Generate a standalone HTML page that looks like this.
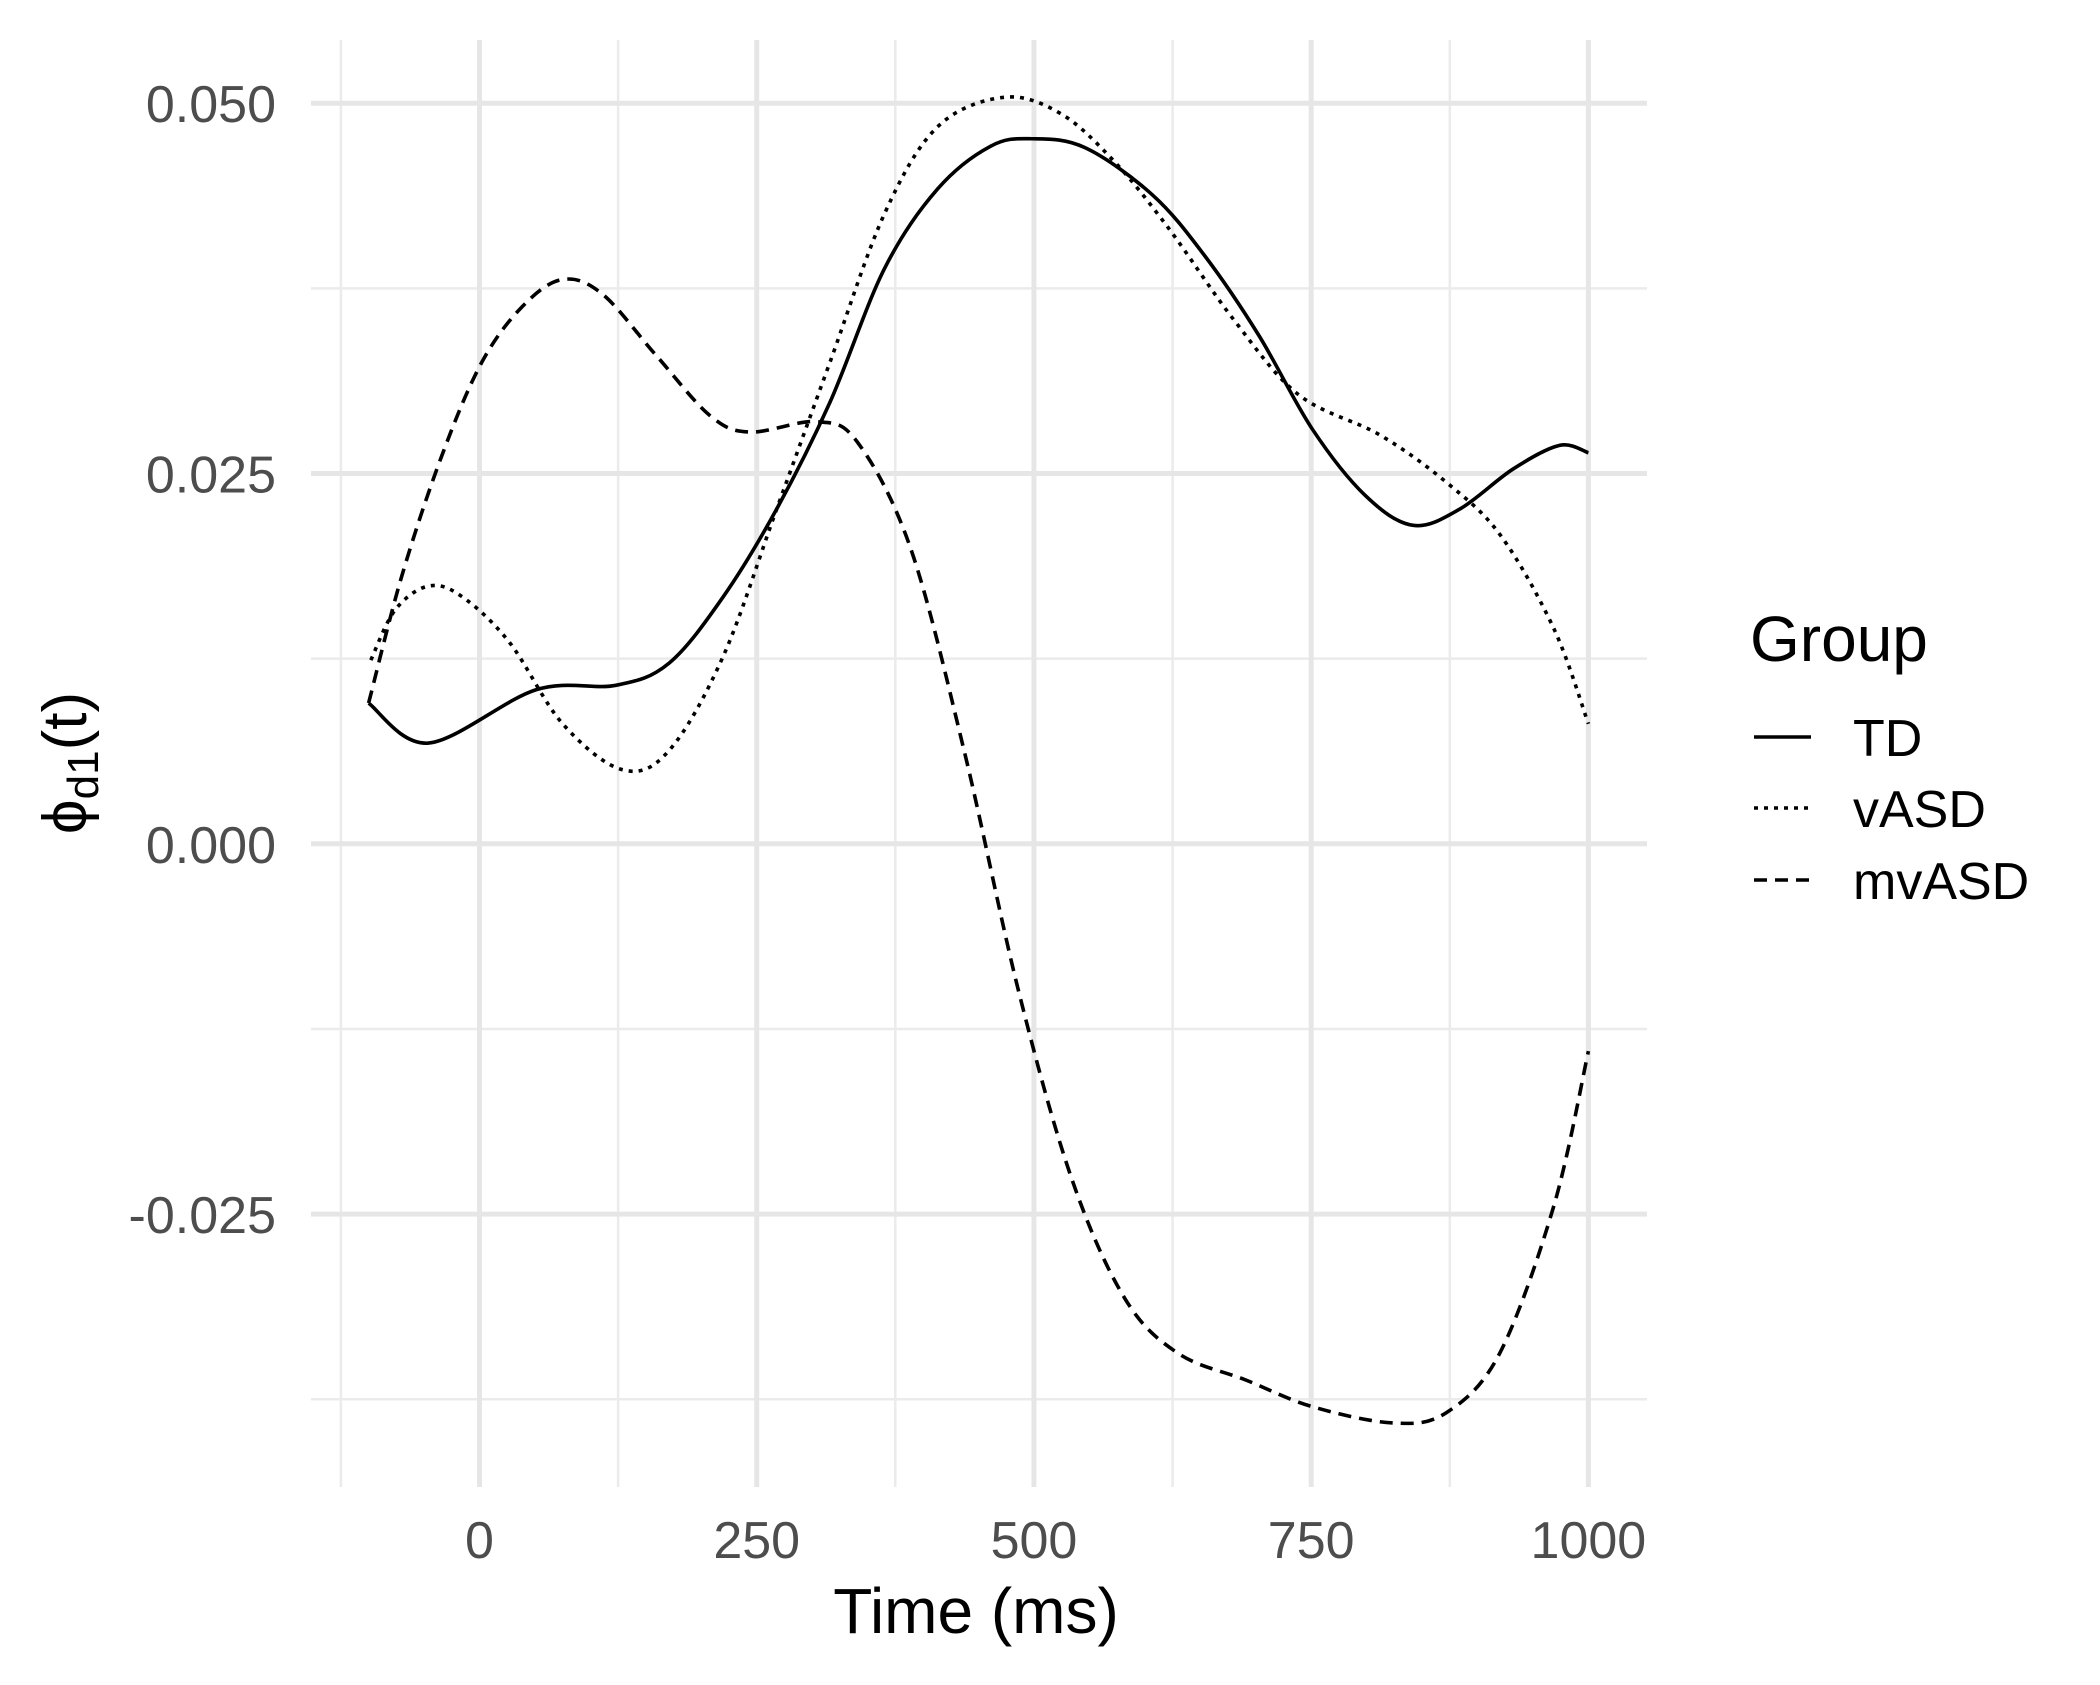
<!DOCTYPE html>
<html><head><meta charset="utf-8"><style>
body{margin:0;background:#fff}
svg text{font-family:"Liberation Sans",sans-serif}
</style></head><body>
<svg id="chart" width="2100" height="1680" xmlns="http://www.w3.org/2000/svg">
<g id="grid"></g>
<g id="series"></g>
<g id="axes"></g>
<text x="976" y="1633" font-size="64" text-anchor="middle" fill="#000">Time (ms)</text>
<text transform="translate(86,763) rotate(-90)" font-size="62" text-anchor="middle" fill="#000">ϕ<tspan font-size="44" dy="12">d1</tspan><tspan dy="-12">(t)</tspan></text>
<g>
<text x="1750" y="661" font-size="64" fill="#000">Group</text>
<line x1="1754" x2="1811" y1="737" y2="737" stroke="#000" stroke-width="3.6"/>
<text x="1853" y="756" font-size="52" fill="#000">TD</text>
<line x1="1754" x2="1811" y1="808" y2="808" stroke="#000" stroke-width="3.6" stroke-dasharray="4 6"/>
<text x="1853" y="827" font-size="52" fill="#000">vASD</text>
<line x1="1754" x2="1811" y1="880" y2="880" stroke="#000" stroke-width="3.6" stroke-dasharray="13 8"/>
<text x="1853" y="899" font-size="52" fill="#000">mvASD</text>
</g>
</svg>
<script>
const xTicks=[0,250,500,750,1000];
const xMinor=[-125,125,375,625,875];
const yTicks=[0.05,0.025,0,-0.025];
const yTickLabels=["0.050","0.025","0.000","-0.025"];
const yMinor=[0.0375,0.0125,-0.0125,-0.0375];
const tdT=[-100,-46,51,123,171,220,268,316,365,413,461,498,546,607,654,703,751,799,842,884,932,974,1000];
const tdV=[0.0095,0.0068,0.0104,0.0107,0.0122,0.0167,0.0226,0.0298,0.0388,0.0442,0.0471,0.0476,0.0470,0.0438,0.0397,0.0343,0.0280,0.0235,0.0215,0.0226,0.0253,0.0269,0.0264];
const vT=[-98,-76,-46,-16,27,75,129,171,220,268,316,365,413,473,524,572,621,681,739,812,872,921,969,1000];
const vV=[0.0124,0.0158,0.0174,0.0167,0.0136,0.0081,0.0050,0.0063,0.0127,0.0226,0.0325,0.0425,0.0484,0.0504,0.0493,0.0461,0.0416,0.0353,0.0303,0.0276,0.0244,0.0208,0.0145,0.0081];
const mT=[-100,-70,-34,2,39,75,111,159,208,244,304,341,389,437,486,534,582,630,691,751,824,872,920,969,1000];
const mV=[0.0095,0.0181,0.0262,0.0325,0.0363,0.0381,0.0371,0.0330,0.0289,0.0278,0.0285,0.0271,0.0199,0.0063,-0.0099,-0.0226,-0.0307,-0.0344,-0.0362,-0.0380,-0.0391,-0.0384,-0.0344,-0.0244,-0.0140];
const X=t=>479.5+t*1.1089;
const Y=v=>843.8-v*14812;
const NS="http://www.w3.org/2000/svg";
const grid=document.getElementById('grid'),axes=document.getElementById('axes'),ser=document.getElementById('series');
function mk(tag,attrs,parent){const e=document.createElementNS(NS,tag);for(const k in attrs)e.setAttribute(k,attrs[k]);parent.appendChild(e);return e;}
yMinor.forEach(v=>{const e=mk('line',{x1:311,x2:1647,y1:Y(v),y2:Y(v),stroke:'#ebebeb','stroke-width':2.5},grid);

});
xMinor.forEach(t=>{const e=mk('line',{x1:X(t),x2:X(t),y1:40,y2:1487,stroke:'#ebebeb','stroke-width':2.5},grid);

});
yTicks.forEach((v,i)=>{const e=mk('line',{x1:311,x2:1647,y1:Y(v),y2:Y(v),stroke:'#e6e6e6','stroke-width':5},grid);


const t=mk('text',{x:276,y:Y(v)+19,'font-size':52,fill:'#4d4d4d','text-anchor':'end'},axes);t.textContent=yTickLabels[i];

});
xTicks.forEach(v=>{const e=mk('line',{x1:X(v),x2:X(v),y1:40,y2:1487,stroke:'#e6e6e6','stroke-width':5},grid);


const t=mk('text',{x:X(v),y:1558,'font-size':52,fill:'#4d4d4d','text-anchor':'middle'},axes);t.textContent=String(v);

});
function path(T,V){const p=T.map((t,i)=>[X(t),Y(V[i])]);let d='M'+p[0][0]+','+p[0][1];
for(let i=0;i<p.length-1;i++){const p0=p[Math.max(0,i-1)],p1=p[i],p2=p[i+1],p3=p[Math.min(p.length-1,i+2)];
d+=' C'+(p1[0]+(p2[0]-p0[0])/6)+','+(p1[1]+(p2[1]-p0[1])/6)+' '+(p2[0]-(p3[0]-p1[0])/6)+','+(p2[1]-(p3[1]-p1[1])/6)+' '+p2[0]+','+p2[1];}
return d;}
const a=mk('path',{d:path(tdT,tdV),fill:'none',stroke:'#000','stroke-width':3.6},ser);


const b=mk('path',{d:path(vT,vV),fill:'none',stroke:'#000','stroke-width':3.6,'stroke-dasharray':'4 6'},ser);


const c=mk('path',{d:path(mT,mV),fill:'none',stroke:'#000','stroke-width':3.6,'stroke-dasharray':'13 8'},ser);


</script>
</body></html>
